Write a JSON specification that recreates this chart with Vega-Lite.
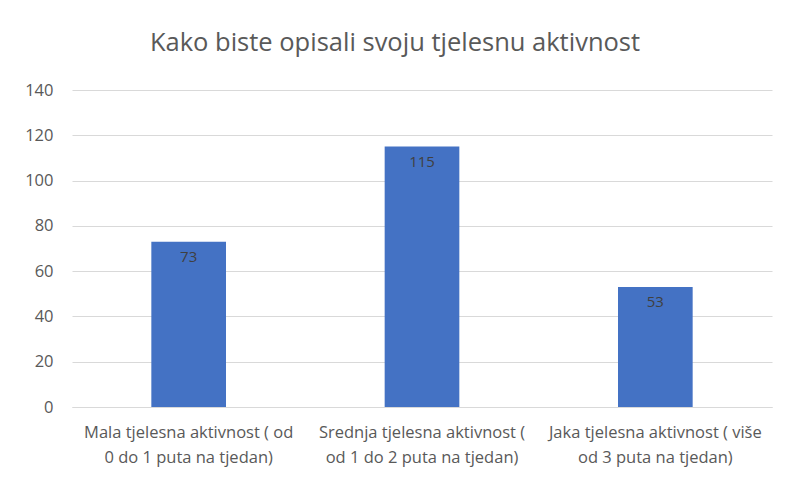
{
  "$schema": "https://vega.github.io/schema/vega-lite/v6.json",
  "width": 700,
  "height": 317,
  "autosize": {"type": "none"},
  "padding": {"left": 72, "top": 90, "right": 15, "bottom": 73},
  "background": "white",
  "title": {
    "text": "Kako biste opisali svoju tjelesnu aktivnost",
    "font": "Open Sans",
    "fontSize": 25.5,
    "fontWeight": "normal",
    "color": "#595959",
    "offset": 26,
    "dx": -27,
    "anchor": "middle"
  },
  "data": {
    "values": [
      {"kategorija": "Mala tjelesna aktivnost ( od 0 do 1 puta na tjedan)", "broj": 73},
      {"kategorija": "Srednja tjelesna aktivnost ( od 1 do 2 puta na tjedan)", "broj": 115},
      {"kategorija": "Jaka tjelesna aktivnost ( više od 3 puta na tjedan)", "broj": 53}
    ]
  },
  "config": {
    "view": {"stroke": null},
    "font": "Open Sans"
  },
  "encoding": {
    "x": {
      "field": "kategorija",
      "type": "nominal",
      "sort": null,
      "scale": {"paddingInner": 0.68, "paddingOuter": 0.34},
      "axis": {
        "title": null,
        "labelAngle": 0,
        "ticks": false,
        "domainColor": "#d9d9d9",
        "labelColor": "#595959",
        "labelFont": "Open Sans",
        "labelFontSize": 16.5,
        "labelPadding": 17,
        "labelLineHeight": 25,
        "labelBaseline": "top",
        "labelLimit": 260,
        "labelExpr": "substring(datum.value, 0, 4) == 'Mala' ? ['Mala tjelesna aktivnost ( od', '0 do 1 puta na tjedan)'] : substring(datum.value, 0, 4) == 'Sred' ? ['Srednja tjelesna aktivnost (', 'od 1 do 2 puta na tjedan)'] : ['Jaka tjelesna aktivnost ( više', 'od 3 puta na tjedan)']"
      }
    },
    "y": {
      "field": "broj",
      "type": "quantitative",
      "scale": {"domain": [0, 140]},
      "axis": {
        "title": null,
        "values": [0, 20, 40, 60, 80, 100, 120, 140],
        "domain": false,
        "ticks": false,
        "gridColor": "#d9d9d9",
        "labelColor": "#595959",
        "labelFont": "Open Sans",
        "labelFontSize": 16.5,
        "labelPadding": 19
      }
    }
  },
  "layer": [
    {"mark": {"type": "bar", "color": "#4472C4"}},
    {
      "mark": {"type": "text", "baseline": "top", "dy": 8, "color": "#404040", "fontSize": 15, "font": "Open Sans"},
      "encoding": {"text": {"field": "broj", "type": "quantitative"}}
    }
  ]
}
